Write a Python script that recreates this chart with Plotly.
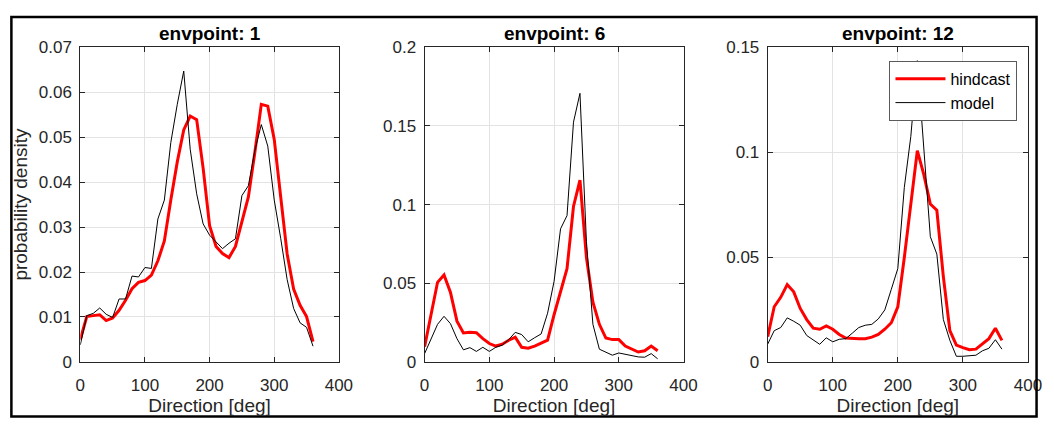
import plotly.graph_objects as go

# Direction bins (deg)
direction = list(range(0, 361, 10))

# envpoint 1
hind_1 = [0.0050, 0.0101, 0.0103, 0.0105, 0.0092, 0.0098, 0.0115, 0.0137, 0.0163, 0.0177,
          0.0181, 0.0193, 0.0225, 0.0269, 0.0360, 0.0445, 0.0516, 0.0547, 0.0539, 0.0431,
          0.0303, 0.0257, 0.0241, 0.0232, 0.0257, 0.0310, 0.0367, 0.0466, 0.0573, 0.0569,
          0.0495, 0.0367, 0.0240, 0.0162, 0.0126, 0.0101, 0.0045]
model_1 = [0.0038, 0.0103, 0.0108, 0.0120, 0.0106, 0.0099, 0.0140, 0.0140, 0.0191, 0.0189,
           0.0210, 0.0208, 0.0318, 0.0360, 0.0488, 0.0573, 0.0647, 0.0473, 0.0374, 0.0307,
           0.0282, 0.0268, 0.0252, 0.0264, 0.0274, 0.0370, 0.0392, 0.0470, 0.0528, 0.0480,
           0.0360, 0.0275, 0.0183, 0.0119, 0.0087, 0.0077, 0.0035]

# envpoint 6
hind_6 = [0.0097, 0.0300, 0.0506, 0.0553, 0.0441, 0.0259, 0.0184, 0.0188, 0.0186, 0.0148,
          0.0117, 0.0101, 0.0113, 0.0138, 0.0158, 0.0093, 0.0087, 0.0101, 0.0117, 0.0138,
          0.0300, 0.0441, 0.0593, 0.0988, 0.1156, 0.0664, 0.0380, 0.0239, 0.0152, 0.0142,
          0.0142, 0.0101, 0.0081, 0.0063, 0.0071, 0.0101, 0.0071]
model_6 = [0.0053, 0.0148, 0.0239, 0.0290, 0.0243, 0.0148, 0.0077, 0.0091, 0.0067, 0.0093,
           0.0067, 0.0093, 0.0107, 0.0142, 0.0188, 0.0174, 0.0128, 0.0154, 0.0178, 0.0310,
           0.0512, 0.0846, 0.0930, 0.1524, 0.1707, 0.0765, 0.0239, 0.0081, 0.0061, 0.0043,
           0.0057, 0.0049, 0.0040, 0.0032, 0.0030, 0.0053, 0.0020]

# envpoint 12
hind_12 = [0.0121, 0.0263, 0.0308, 0.0369, 0.0334, 0.0255, 0.0202, 0.0161, 0.0156, 0.0172,
           0.0156, 0.0131, 0.0114, 0.0111, 0.0111, 0.0111, 0.0118, 0.0131, 0.0156, 0.0187,
           0.0263, 0.0498, 0.0756, 0.1007, 0.0893, 0.0753, 0.0723, 0.0407, 0.0149, 0.0080,
           0.0068, 0.0058, 0.0061, 0.0088, 0.0111, 0.0161, 0.0103]
model_12 = [0.0085, 0.0149, 0.0164, 0.0210, 0.0194, 0.0175, 0.0126, 0.0103, 0.0084, 0.0115,
            0.0096, 0.0108, 0.0111, 0.0137, 0.0164, 0.0175, 0.0179, 0.0205, 0.0248, 0.0346,
            0.0445, 0.0832, 0.1075, 0.1436, 0.1030, 0.0597, 0.0514, 0.0202, 0.0103, 0.0027,
            0.0027, 0.0030, 0.0032, 0.0053, 0.0065, 0.0106, 0.0061]

titles = ["envpoint: 1", "envpoint: 6", "envpoint: 12"]
y_ranges = [[0, 0.07], [0, 0.2], [0, 0.15]]
y_dticks = [0.01, 0.05, 0.05]
panels = [(hind_1, model_1), (hind_6, model_6), (hind_12, model_12)]

W, H = 1054, 429
# panel pixel extents (left, right) and shared top/bottom
x_px = [(76.7, 340.0), (427.3, 691.0), (776.7, 1041.7)]
top_px, bot_px = 40.0, 369.3

FONT = "Liberation Sans, Arial, Helvetica, sans-serif"
TXT = "#262626"
GRID = "#e3e3e3"

fig = go.Figure()
layout = dict(
    width=W, height=H,
    margin=dict(l=0, r=0, t=0, b=0),
    paper_bgcolor="white", plot_bgcolor="white",
    font=dict(family=FONT, color=TXT),
    showlegend=True,
)

for i, (hind, model) in enumerate(panels):
    n = "" if i == 0 else str(i + 1)
    xa, ya = "x" + n, "y" + n
    fig.add_trace(go.Scatter(x=direction, y=hind, mode="lines", name="hindcast",
                             line=dict(color="#ff0000", width=3),
                             xaxis=xa, yaxis=ya, showlegend=(i == 2)))
    fig.add_trace(go.Scatter(x=direction, y=model, mode="lines", name="model",
                             line=dict(color="#000000", width=1),
                             xaxis=xa, yaxis=ya, showlegend=(i == 2)))
    l, r = x_px[i]
    common = dict(
        showline=True, linecolor=TXT, linewidth=1, mirror="ticks",
        ticks="inside", ticklen=5, tickcolor=TXT,
        showgrid=True, gridcolor=GRID, gridwidth=1,
        zeroline=False,
        tickfont=dict(family=FONT, size=17, color=TXT),
    )
    layout["xaxis" + n] = dict(
        common, domain=[l / W, r / W], range=[0, 400], dtick=100,
        anchor=ya,
        title=dict(text="Direction [deg]", font=dict(family=FONT, size=19, color=TXT),
                   standoff=4),
        ticklabelstandoff=8,
    )
    yax = dict(
        common, domain=[1 - bot_px / H, 1 - top_px / H], range=y_ranges[i],
        dtick=y_dticks[i], anchor=xa, ticklabelstandoff=4,
    )
    if i == 0:
        yax["title"] = dict(text="probability density",
                            font=dict(family=FONT, size=19, color=TXT), standoff=6)
    layout["yaxis" + n] = yax

annotations = []
for i, t in enumerate(titles):
    l, r = x_px[i]
    annotations.append(dict(
        text="<b>" + t + "</b>", x=(l + r) / 2 / W, y=1 - 26.0 / H,
        xref="paper", yref="paper", xanchor="center", yanchor="middle",
        showarrow=False, font=dict(family=FONT, size=19, color="#000000"),
    ))
layout["annotations"] = annotations

layout["legend"] = dict(
    x=900.7 / W, y=1 - 54.3 / H, xanchor="left", yanchor="top",
    bgcolor="white", bordercolor="#5a5a5a", borderwidth=1,
    font=dict(family=FONT, size=16, color="#000000"),
    tracegroupgap=0, itemwidth=50,
)

# outer figure frame
layout["shapes"] = [dict(
    type="rect", xref="paper", yref="paper",
    x0=6.5 / W, x1=1050.5 / W, y0=1 - 426.5 / H, y1=1 - 8.5 / H,
    line=dict(color="#000000", width=2.5), fillcolor="rgba(0,0,0,0)", layer="above",
)]

fig.update_layout(**layout)
fig.write_html("out.html")
